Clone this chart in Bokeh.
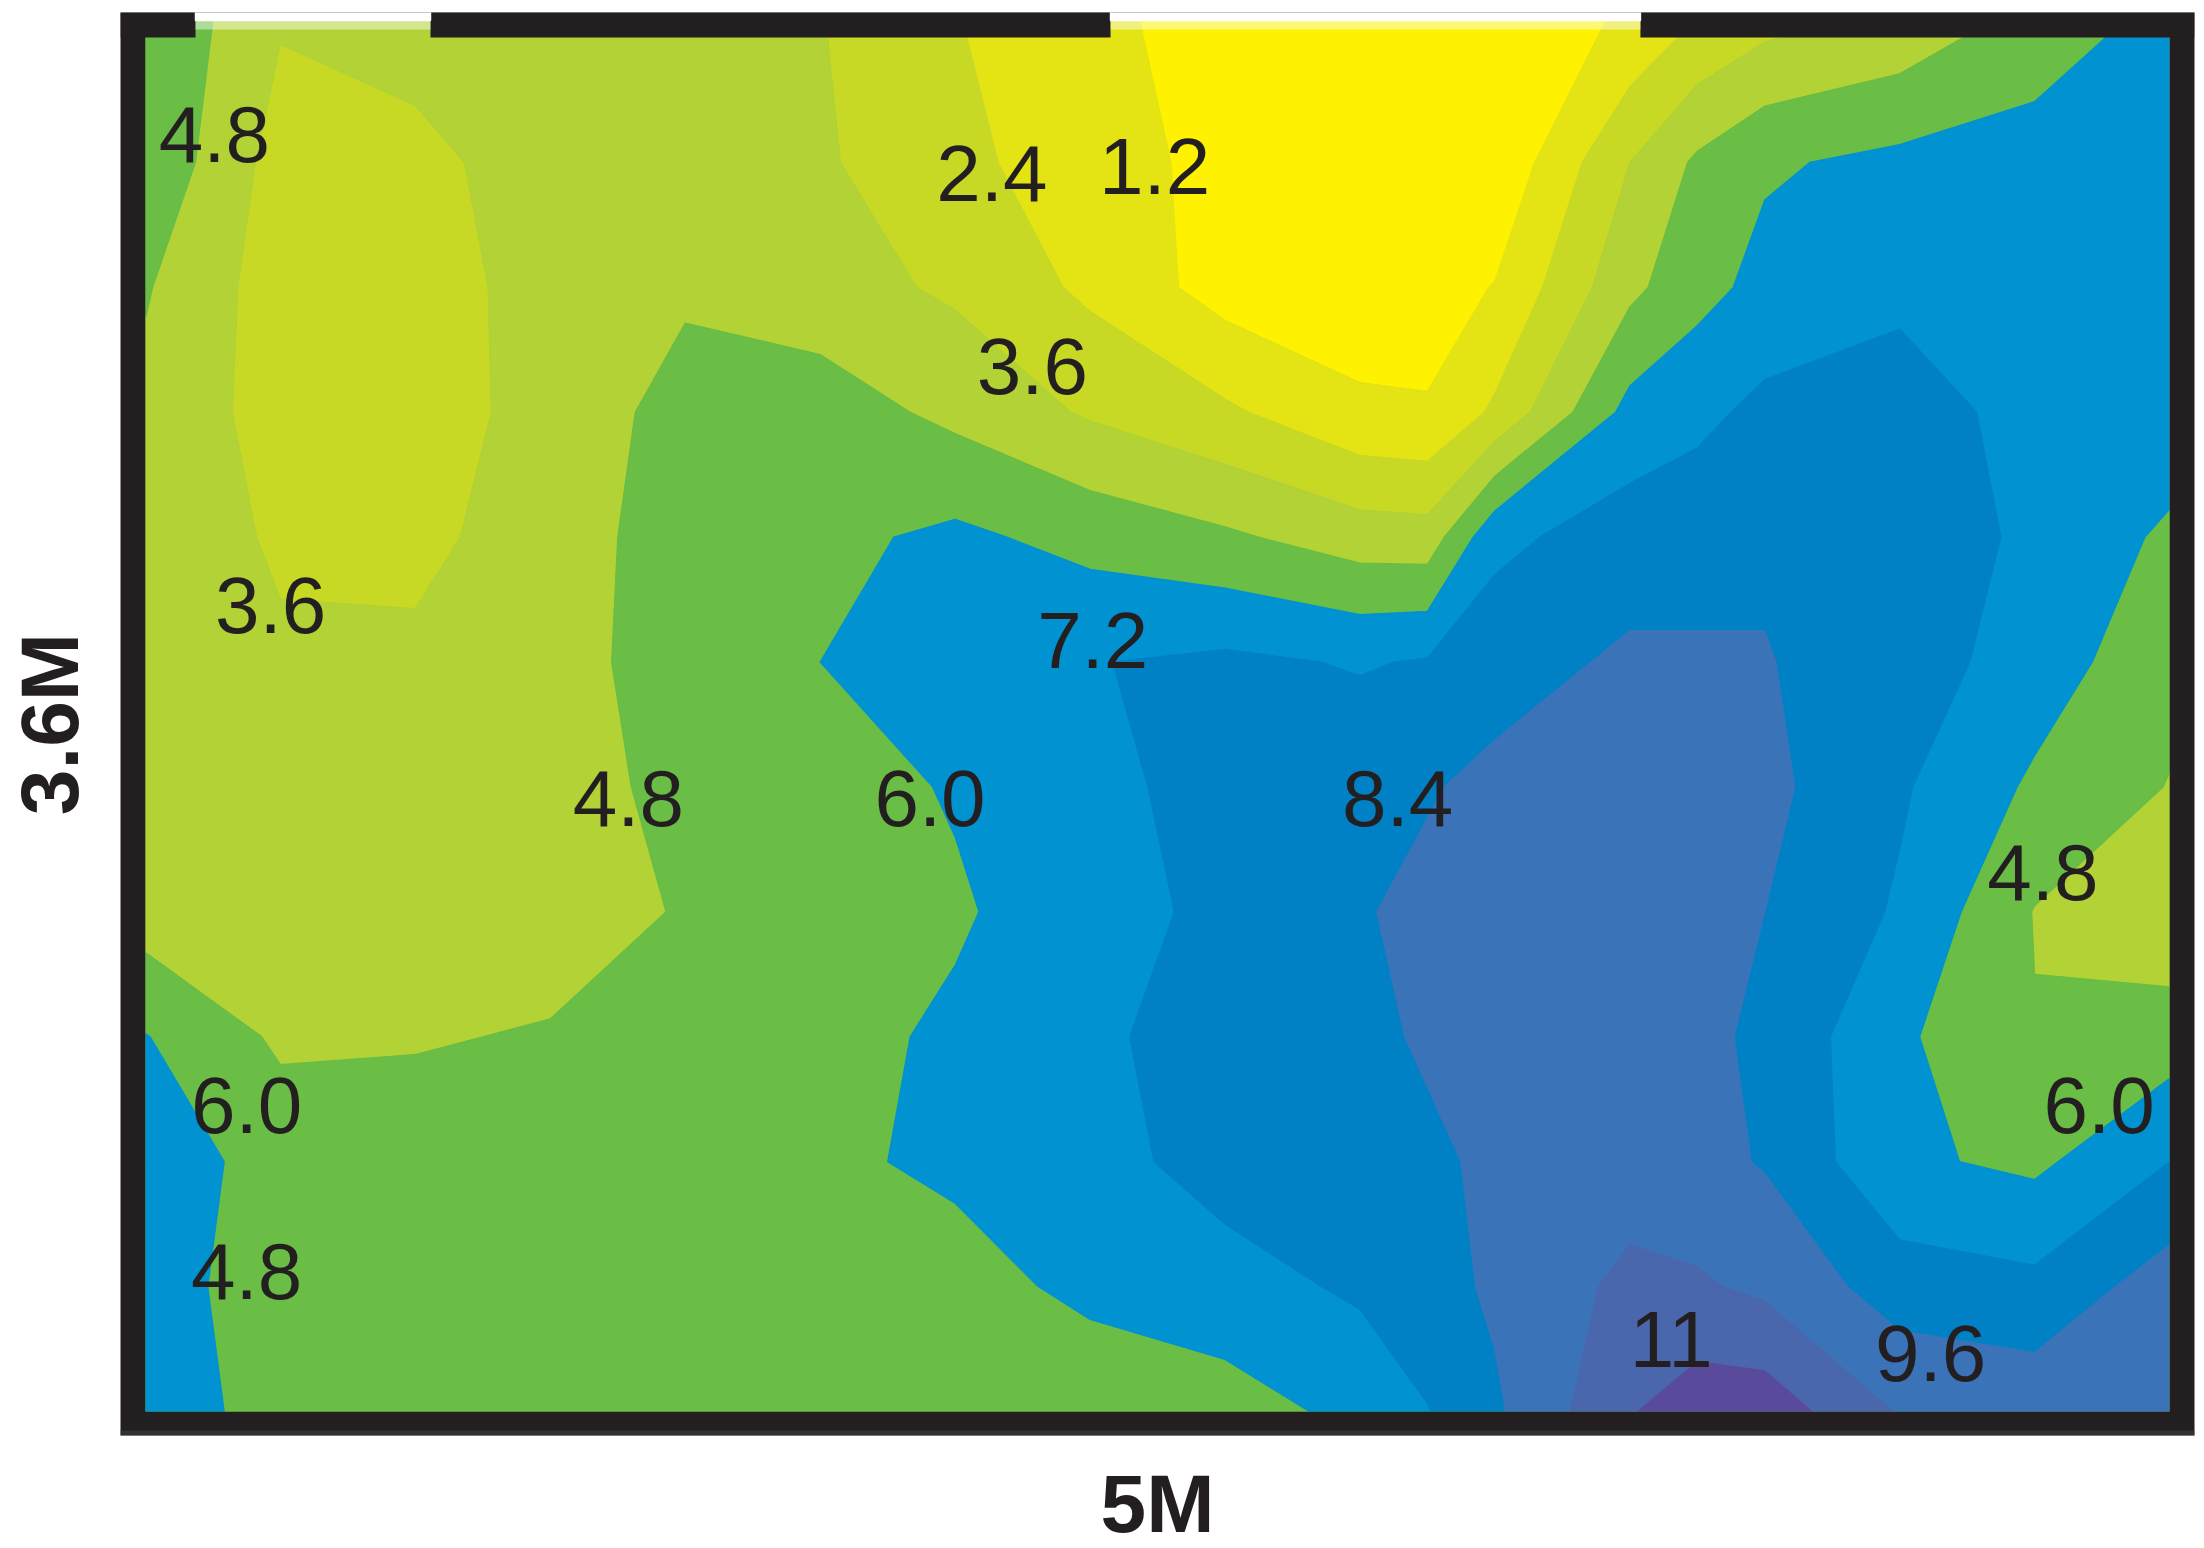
import numpy as np
from bokeh.plotting import figure
from bokeh.models import Range1d, FixedTicker
from bokeh.core.properties import value
from bokeh.embed import file_html
from bokeh.resources import INLINE

x_nodes = [0, 0.3333, 0.6667, 1.0, 1.3333, 1.6667, 2.0, 2.3333, 2.6667, 3.0, 3.1667, 3.3333,
           3.6667, 3.8333, 4.0, 4.3333, 4.6667, 5.0]
y_nodes = list(np.linspace(0, 3.6, 12))
y_nodes[-1] = 3.6445  # the fill runs on a little above the frame's inner edge

row_00 = [5.9, 3.7, 3.9, 4.2, 4.0, 3.65, 2.45, 1.55, 0.6, 0.3, 0.4, 0.5, 1.35, 2.45, 3.2, 3.9, 5.2, 6.4]
row_01 = [5.8, 3.1, 3.4, 3.95, 4.2, 3.75, 2.75, 1.65, 0.9, 0.5, 0.35, 0.2, 3.6, 5.0, 5.85, 6.3, 6.6, 6.8]
row_02 = [4.9, 3.0, 3.25, 3.9, 4.6, 4.1, 3.4, 2.15, 0.7, 0.4, 0.7, 1.25, 4.5, 5.6, 6.35, 6.8, 6.6, 6.7]
row_03 = [4.5, 3.1, 3.15, 3.95, 5.3, 5.4, 4.5, 3.45, 2.6, 1.45, 1.3, 2.6, 6.4, 6.9, 7.5, 8.0, 6.6, 6.7]
row_04 = [4.3, 3.45, 3.2, 4.4, 5.2, 5.7, 6.25, 5.6, 5.0, 4.2, 4.1, 6.9, 7.8, 7.95, 8.25, 8.1, 6.9, 5.8]
row_05 = [4.2, 3.75, 3.9, 4.55, 5.1, 6.0, 6.7, 7.15, 7.45, 7.1, 7.3, 7.9, 8.6, 8.55, 8.45, 7.85, 6.6, 5.2]
row_06 = [4.2, 4.25, 4.2, 4.35, 5.1, 5.5, 6.1, 6.9, 7.6, 8.0, 8.3, 8.7, 9.1, 9.0, 8.7, 7.35, 5.8, 4.75]
row_07 = [4.2, 4.1, 4.1, 4.2, 4.9, 5.4, 5.85, 6.7, 7.5, 8.3, 8.7, 9.0, 9.2, 8.9, 8.4, 7.05, 4.75, 3.9]
row_08 = [6.05, 4.6, 4.7, 4.9, 5.2, 5.6, 6.2, 6.95, 7.8, 8.2, 8.5, 8.85, 9.1, 8.7, 8.15, 6.2, 4.85, 5.4]
row_09 = [6.7, 5.5, 5.4, 5.4, 5.5, 5.8, 6.2, 6.75, 7.7, 8.0, 8.25, 8.55, 9.0, 8.8, 8.3, 6.2, 5.75, 7.2]
row_10 = [6.6, 5.3, 5.2, 5.2, 5.25, 5.35, 5.6, 6.25, 6.7, 7.4, 7.9, 8.6, 9.9, 9.75, 9.35, 7.8, 7.5, 9.0]
row_11 = [6.7, 5.5, 5.1, 5.1, 5.1, 5.15, 5.2, 5.3, 5.5, 6.3, 7.15, 8.2, 10.7, 11.5, 11.5, 9.5, 9.2, 9.3]

levels = [0, 1.2, 2.4, 3.6, 4.8, 6.0, 7.2, 8.4, 9.6, 10.8, 13]
band_colors = ["#fff200", "#e4e414", "#c8d925", "#b2d235", "#6abd45",
               "#0092d1", "#0080c5", "#3b73b9", "#4a66ad", "#5a4a9c"]

label_text = ["4.8", "2.4", "1.2", "3.6", "3.6", "7.2", "4.8", "6.0", "8.4", "4.8", "6.0", "6.0", "4.8", "11", "9.6"]
label_x = [0.170, 2.091, 2.493, 2.191, 0.309, 2.340, 1.193, 1.938, 3.093, 4.687, 0.250, 4.826, 0.250, 3.769, 4.410]
label_y = [3.346, 3.243, 3.261, 2.739, 2.113, 2.021, 1.605, 1.605, 1.605, 1.413, 0.802, 0.802, 0.368, 0.188, 0.151]

x_title = "5M"
y_title = "3.6M"

x_lo, x_hi = -0.0618, 5.0618
y_lo, y_hi = -0.0629, 3.6655
gap_left = [0.1235, 2.384]
gap_right = [0.704, 3.693]

z = np.array([row_00, row_01, row_02, row_03, row_04, row_05, row_06,
              row_07, row_08, row_09, row_10, row_11])[::-1]

ink = "#231f20"
p = figure(frame_width=2074, frame_height=1423, min_border_left=120, min_border_right=2,
           min_border_top=12, min_border_bottom=105, toolbar_location=None, output_backend="svg",
           x_range=Range1d(x_lo, x_hi), y_range=Range1d(y_lo, y_hi))
p.background_fill_color = ink
p.border_fill_color = "white"
p.outline_line_color = None
p.grid.visible = False

# plain underlay, so that no dark hairline shows between neighbouring bands
p.quad(left=0, right=5, bottom=0, top=3.6445, fill_color="#6abd45", line_color=None)
p.contour(x_nodes, y_nodes, z, levels, fill_color=band_colors,
          line_color=band_colors + ["#5a4a9c"], line_width=1.2)

# top border: broken in two places
edges_left = [x_lo] + gap_right
edges_right = gap_left + [x_hi]
p.quad(left=edges_left, right=edges_right, bottom=3.6, top=y_hi, fill_color=ink, line_color=None)
p.quad(left=gap_left, right=gap_right, bottom=3.6445, top=y_hi + 0.02, fill_color="white",
       line_color="white", line_width=1.5)
p.quad(left=gap_left, right=gap_right, bottom=3.621, top=3.6445, fill_color="white", fill_alpha=0.45, line_color=None)
# bottom border: slightly lighter lowest strip
p.quad(left=x_lo, right=x_hi, bottom=y_lo, top=-0.0498, fill_color="#333132", line_color=None)

p.text(x=label_x, y=label_y, text=label_text, text_align="center", text_baseline="middle",
       text_font=value("Liberation Sans"), text_font_size="80px", text_color=ink)

for ax, title in ((p.xaxis[0], x_title), (p.yaxis[0], y_title)):
    ax.ticker = FixedTicker(ticks=[])
    ax.axis_label = title
    ax.axis_label_text_font = "Liberation Sans"
    ax.axis_label_text_font_style = "bold"
    ax.axis_label_text_font_size = "82px"
    ax.axis_label_text_color = ink
    ax.major_tick_line_color = None
    ax.minor_tick_line_color = None
    ax.axis_line_color = None
p.xaxis[0].axis_label_standoff = 22
p.yaxis[0].axis_label_standoff = 26

open("out.html", "w").write(file_html(p, INLINE))
